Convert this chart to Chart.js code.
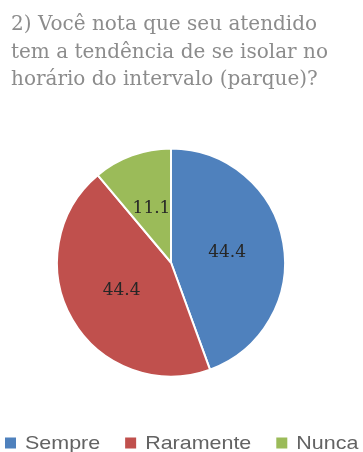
<!DOCTYPE html>
<html>
<head>
<meta charset="utf-8">
<script src="https://cdn.jsdelivr.net/npm/chart.js@4"></script>
<style>
  html, body { margin: 0; padding: 0; background: #ffffff; }
  #wrap { width: 363px; height: 452px; position: relative; }
</style>
</head>
<body>
<div id="wrap"><canvas id="c" width="363" height="452"></canvas></div>
<script>
const titleLines = [
  '2) Você nota que seu atendido',
  'tem a tendência de se isolar no',
  'horário do intervalo (parque)?'
];
const categories = ['Sempre', 'Raramente', 'Nunca'];
const values = [44.4, 44.4, 11.1];
const colors = ['#4F81BD', '#C0504D', '#9BBB59'];

// Left-aligned three-line question above the pie
const questionTitle = {
  id: 'questionTitle',
  afterDraw(chart) {
    const ctx = chart.ctx;
    ctx.save();
    ctx.font = '20px "DejaVu Serif", serif';
    ctx.fillStyle = '#8c8c8c';
    ctx.textAlign = 'left';
    ctx.textBaseline = 'alphabetic';
    titleLines.forEach((line, i) => ctx.fillText(line, 11, 30 + i * 27.5));
    ctx.restore();
  }
};

// Legend row along the bottom edge: square swatch followed by the category name,
// text drawn slightly widened horizontally
const legendRow = {
  id: 'legendRow',
  afterDraw(chart) {
    const ctx = chart.ctx;
    const y = 443;
    const stretch = 1.16;
    const box = 11;
    ctx.save();
    ctx.font = '18.5px "Liberation Sans", Arial, sans-serif';
    ctx.textBaseline = 'middle';
    ctx.textAlign = 'left';
    let x = 5;
    categories.forEach((name, i) => {
      ctx.fillStyle = colors[i];
      ctx.fillRect(x, y - box / 2, box, box);
      const tx = x + 20;
      ctx.save();
      ctx.translate(tx, y + 1);
      ctx.scale(stretch, 1);
      ctx.fillStyle = '#636363';
      ctx.fillText(name, 0, 0);
      ctx.restore();
      x = tx + ctx.measureText(name).width * stretch + 25;
    });
    ctx.restore();
  }
};

// Writes each slice's value inside the slice, halfway out from the centre
const sliceLabels = {
  id: 'sliceLabels',
  afterDatasetsDraw(chart) {
    const ctx = chart.ctx;
    const meta = chart.getDatasetMeta(0);
    ctx.save();
    ctx.font = '17px "DejaVu Serif", serif';
    ctx.fillStyle = '#262626';
    ctx.textAlign = 'center';
    ctx.textBaseline = 'middle';
    meta.data.forEach((arc, i) => {
      const mid = (arc.startAngle + arc.endAngle) / 2;
      const r = arc.outerRadius * 0.5;
      ctx.fillText(String(values[i]), arc.x + Math.cos(mid) * r, arc.y + Math.sin(mid) * r);
    });
    ctx.restore();
  }
};

new Chart(document.getElementById('c'), {
  type: 'pie',
  data: {
    labels: categories,
    datasets: [{
      data: values,
      backgroundColor: colors,
      borderColor: '#ffffff',
      borderWidth: 2
    }]
  },
  options: {
    responsive: false,
    animation: false,
    layout: { padding: { left: 56, right: 77, top: 147, bottom: 74 } },
    plugins: {
      title: { display: false },
      legend: { display: false },
      tooltip: { enabled: false }
    }
  },
  plugins: [sliceLabels, questionTitle, legendRow]
});
</script>
</body>
</html>
